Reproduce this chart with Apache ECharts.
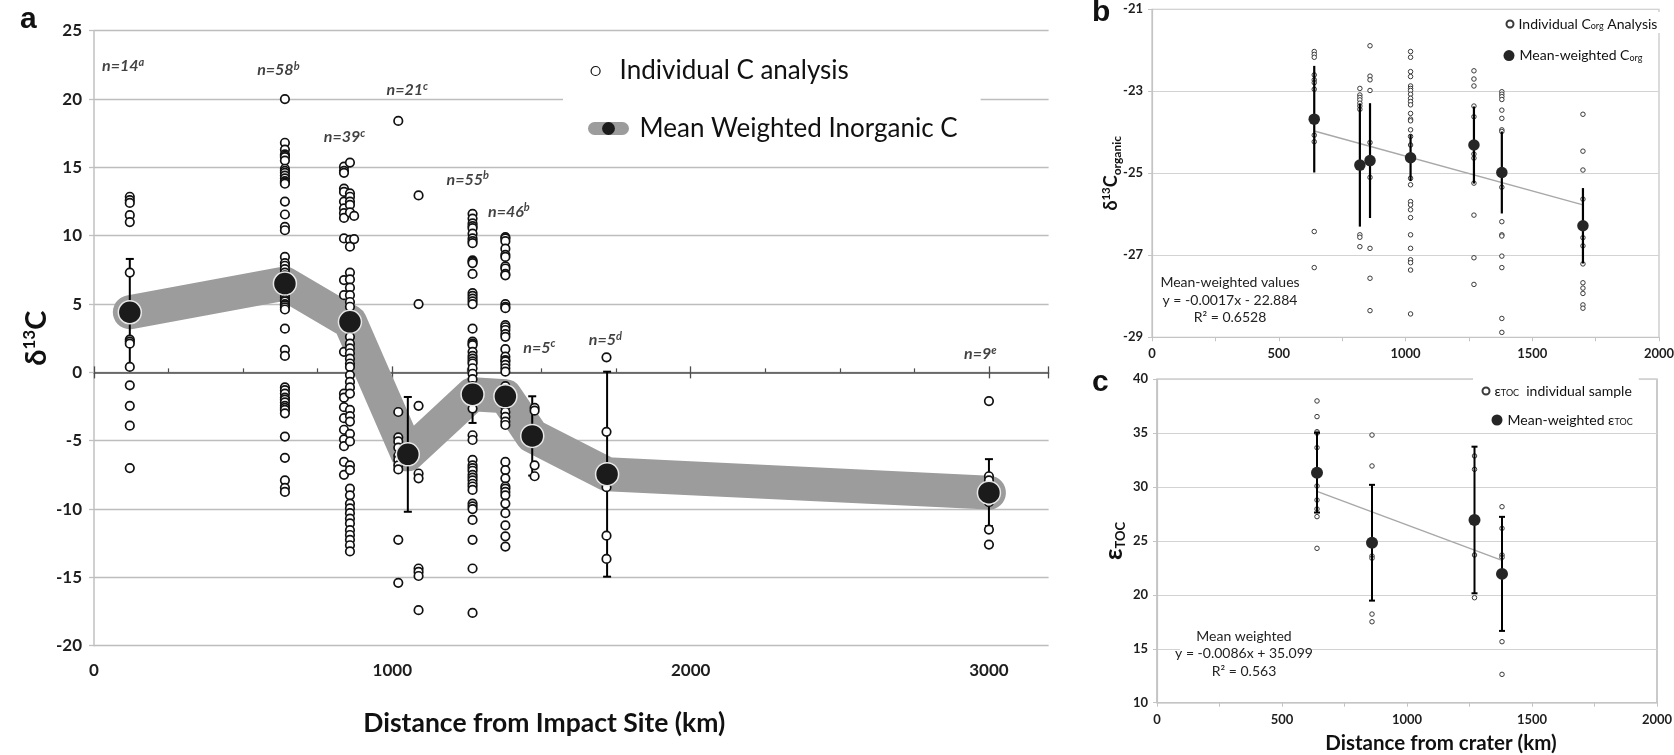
<!DOCTYPE html>
<html><head><meta charset="utf-8">
<script src="https://cdn.jsdelivr.net/npm/echarts@6/dist/echarts.min.js"></script>
<style>html,body{margin:0;padding:0;background:#fff}#c{width:1674px;height:755px}</style>
</head><body><div id="c"></div>
<script>
// ---------- Panel a : inorganic d13C ----------
const aSiteX = [120, 640, 838, 858, 872, 1020, 1088, 1269, 1379, 1477, 1718, 3000];
const aSiteVals = [
  [12.85, 12.6, 12.4, 11.5, 11.0, 7.3, 2.4, 2.25, 2.1, 0.4, -0.95, -2.45, -3.9, -7.0],
  [20.0, 16.8, 16.3, 15.95, 15.85, 15.75, 15.5, 14.9, 14.75, 14.6, 14.4, 14.2, 14.0, 13.9, 13.8, 12.5, 11.55, 10.65, 10.4, 8.45, 8.0, 7.8, 7.55, 7.3, 7.1, 6.9, 6.7, 6.5, 6.4, 6.2, 6.0, 5.9, 5.7, 5.5, 5.3, 5.2, 5.0, 4.9, 4.75, 4.6, 3.2, 1.65, 1.2, -1.1, -1.3, -1.55, -1.85, -2.0, -2.2, -2.45, -2.6, -2.75, -3.0, -4.7, -6.25, -7.9, -8.45, -8.75],
  [15.05, 14.75, 14.6, 13.45, 13.2, 12.5, 12.0, 11.65, 11.3, 9.8, 6.75, 5.65, 1.5, -1.55, -1.85, -2.55, -3.35, -4.2, -4.9, -5.4, -6.55, -7.5],
  [15.35, 13.1, 12.85, 12.5, 12.25, 11.7, 9.7, 9.2, 7.3, 6.8, 6.2, 5.65, 5.15, 4.8, 3.8, 3.2, 2.6, 2.1, 1.75, 1.4, 1.0, 0.65, 0.4, -0.2, -0.7, -1.1, -1.55, -2.75, -3.2, -3.6, -4.5, -5.05, -6.8, -7.15, -8.5, -9.0, -9.6, -9.95, -10.3, -10.7, -11.05, -11.55, -11.9, -12.25, -12.65, -13.1],
  [11.45, 9.75],
  [18.4, -2.9, -4.75, -5.05, -5.5, -6.1, -6.4, -6.8, -7.1, -12.25, -15.4],
  [12.95, 5.0, -2.45, -7.4, -7.75, -14.35, -14.6, -14.9, -17.4],
  [11.6, 11.25, 10.9, 10.7, 10.55, 10.15, 9.8, 9.6, 9.45, 8.2, 8.1, 8.0, 7.2, 5.8, 5.6, 5.4, 5.2, 5.0, 3.2, 2.25, 2.1, 2.0, 1.5, 1.2, 1.0, 0.8, 0.65, 0.3, -0.1, -0.5, -1.0, -1.3, -1.6, -1.9, -2.2, -2.65, -4.6, -4.95, -6.4, -6.8, -7.0, -7.2, -7.5, -7.7, -7.9, -8.15, -8.35, -8.6, -9.6, -9.8, -10.0, -10.8, -12.25, -14.35, -17.6],
  [9.9, 9.8, 9.6, 9.05, 8.6, 8.45, 7.75, 7.6, 7.2, 7.1, 5.0, 4.8, 4.7, 3.45, 3.3, 3.1, 2.8, 2.6, 1.7, 1.15, 0.9, 0.8, 0.55, 0.3, 0.05, -1.0, -1.4, -1.8, -2.2, -2.5, -2.9, -3.25, -3.6, -3.85, -6.55, -7.15, -7.75, -8.35, -8.5, -8.75, -9.0, -9.6, -10.3, -11.2, -12.0, -12.75],
  [-2.6, -2.8, -4.7, -6.8, -7.6],
  [1.1, -4.35, -8.4, -11.95, -13.65],
  [-2.1, -7.6, -7.9, -8.5, -8.8, -9.1, -9.5, -11.5, -12.6]
];
const aMeanX = [120, 640, 858, 1052, 1269, 1379, 1469, 1720, 3000];
const aMeanY = [4.4, 6.5, 3.7, -6.0, -1.6, -1.75, -4.65, -7.45, -8.8];
const aMeanErr = [3.9, 0, 0, 4.2, 2.1, 0, 2.9, 7.5, 2.45];
const aNLabelX = [98, 618, 840, 1050, 1253, 1391, 1493, 1714, 2971];
const aNLabelY = [22.4, 22.1, 17.2, 20.65, 14.1, 11.75, 1.8, 2.36, 1.34];
const aNText = ['14', '58', '39', '21', '55', '46', '5', '5', '9'];
const aNSup = ['a', 'b', 'c', 'c', 'b', 'b', 'c', 'd', 'e'];
const aXMajor = [0, 1000, 2000, 3000];

// ---------- Panel b : organic d13C ----------
const bSiteX = [640, 820, 860, 1020, 1270, 1380, 1700];
const bSiteVals = [
  [-22.03, -22.1, -22.17, -22.6, -22.72, -22.79, -22.95, -24.07, -24.23, -26.42, -27.3],
  [-22.93, -23.09, -23.15, -23.21, -23.29, -23.36, -23.44, -26.5, -26.56, -26.79],
  [-21.89, -22.63, -22.72, -22.98, -24.25, -25.1, -26.83, -27.56, -28.35],
  [-22.03, -22.17, -22.52, -22.64, -22.87, -22.93, -22.98, -23.07, -23.17, -23.25, -23.33, -23.54, -23.68, -23.72, -23.94, -24.1, -24.31, -25.12, -25.28, -25.69, -25.77, -25.89, -26.08, -26.5, -26.83, -27.11, -27.18, -27.36, -28.43],
  [-22.5, -22.7, -22.87, -23.36, -23.62, -24.53, -24.63, -25.24, -26.02, -27.06, -27.71],
  [-23.01, -23.07, -23.13, -23.2, -23.46, -23.66, -23.94, -23.98, -25.34, -26.18, -26.5, -26.53, -27.02, -27.3, -28.54, -28.88],
  [-23.56, -24.46, -24.92, -25.63, -26.3, -26.57, -26.77, -27.21, -27.67, -27.8, -27.93, -28.21, -28.29]
];
const bMeanY = [-23.68, -24.8, -24.69, -24.62, -24.31, -24.98, -26.28];
const bMeanErr = [1.3, 1.5, 1.4, 0.57, 0.94, 1.0, 0.92];
const bTrendX = [640, 1700];
const bTrendY = [-23.97, -25.77];

// ---------- Panel c : epsilon TOC ----------
const cSiteX = [640, 860, 1270, 1380];
const cSiteVals = [
  [37.99, 36.54, 35.14, 35.0, 33.66, 30.1, 28.8, 27.97, 27.26, 24.32],
  [34.83, 31.96, 23.6, 23.4, 18.22, 17.51],
  [32.89, 31.65, 23.7, 19.74],
  [28.18, 26.17, 23.7, 23.48, 15.66, 12.63]
];
const cMeanY = [31.34, 24.84, 26.95, 21.95];
const cMeanErr = [3.7, 5.37, 6.8, 5.29];
const cTrendX = [640, 1380];
const cTrendY = [29.6, 23.2];

// ---------- helpers ----------
const FONT = 'Lato, "DejaVu Sans", sans-serif';
function pts(xs, vals) { const out = []; xs.forEach((x, i) => vals[i].forEach(v => out.push([x, v]))); return out; }
function pairs(xs, ys) { return xs.map((x, i) => [x, ys[i]]); }
function errData(xs, ys, es) { const out = []; xs.forEach((x, i) => { if (es[i] > 0) out.push([x, ys[i] - es[i], ys[i] + es[i]]); }); return out; }
function errRender(capW, lw) {
  return function (params, api) {
    const x = api.value(0);
    const lo = api.coord([x, api.value(1)]);
    const hi = api.coord([x, api.value(2)]);
    const st = { stroke: '#000', lineWidth: lw };
    const ch = [{ type: 'line', shape: { x1: lo[0], y1: lo[1], x2: hi[0], y2: hi[1] }, style: st }];
    if (capW > 0) {
      ch.push({ type: 'line', shape: { x1: lo[0] - capW / 2, y1: lo[1], x2: lo[0] + capW / 2, y2: lo[1] }, style: st });
      ch.push({ type: 'line', shape: { x1: hi[0] - capW / 2, y1: hi[1], x2: hi[0] + capW / 2, y2: hi[1] }, style: st });
    }
    return { type: 'group', children: ch };
  };
}
const tickLbl = (size) => ({ fontFamily: FONT, fontWeight: 'bold', fontSize: size, color: '#1e1e1e', formatter: v => String(v) });

const chart = echarts.init(document.getElementById('c'), null, { renderer: 'canvas' });
const option = {
  animation: false,
  backgroundColor: '#fff',
  grid: [
    { left: 94, top: 30.7, right: 625.4, bottom: 109.3, outerBoundsMode: 'none' },
    { left: 1152, top: 9.3, right: 15, bottom: 417.7, show: true, borderColor: '#c4c4c4', borderWidth: 1.2, outerBoundsMode: 'none' },
    { left: 1157, top: 379.3, right: 17, bottom: 52.3, show: true, borderColor: '#b4b4b4', borderWidth: 1.4, outerBoundsMode: 'none' }
  ],
  xAxis: [
    { gridIndex: 0, type: 'value', min: 0, max: 3200, interval: 1000, position: 'bottom',
      axisLine: { show: false, onZero: false }, axisTick: { show: false }, splitLine: { show: false },
      axisLabel: Object.assign(tickLbl(17), { margin: 16, formatter: v => aXMajor.indexOf(v) >= 0 ? String(v) : '' }),
      name: 'Distance from Impact Site (km)', nameLocation: 'middle', nameGap: 64, nameMoveOverlap: false,
      nameTextStyle: { fontFamily: FONT, fontWeight: 'bold', fontSize: 26.5, color: '#111', padding: [0, 54, 0, 0] } },
    { gridIndex: 0, type: 'value', min: 0, max: 3200, interval: 1000, position: 'bottom',
      axisLine: { show: true, onZero: true, lineStyle: { color: '#4d4d4d', width: 1.5 } },
      axisTick: { show: true, inside: true, length: 6, lineStyle: { color: '#4d4d4d', width: 1.3 } },
      minorTick: { show: true, splitNumber: 4, length: 4, lineStyle: { color: '#4d4d4d', width: 1.2 } },
      axisLabel: { show: false }, splitLine: { show: false } },
    { gridIndex: 0, type: 'value', min: 0, max: 3200, interval: 1000, position: 'bottom',
      axisLine: { show: false, onZero: true, onZeroAxisIndex: 0 },
      axisTick: { show: true, inside: false, length: 6, lineStyle: { color: '#4d4d4d', width: 1.3 } },
      axisLabel: { show: false }, splitLine: { show: false } },
    { gridIndex: 1, type: 'value', min: 0, max: 2000, interval: 500,
      axisLine: { show: true, onZero: false, lineStyle: { color: '#c4c4c4', width: 1.2 } },
      axisTick: { show: true, length: 4, lineStyle: { color: '#c4c4c4' } },
      minorTick: { show: true, splitNumber: 2, length: 4, lineStyle: { color: '#c4c4c4' } },
      axisLabel: Object.assign(tickLbl(13), { margin: 10 }), splitLine: { show: false } },
    { gridIndex: 2, type: 'value', min: 0, max: 2000, interval: 500,
      axisLine: { show: true, onZero: false, lineStyle: { color: '#c4c4c4', width: 1.2 } },
      axisTick: { show: true, length: 4, lineStyle: { color: '#c4c4c4' } },
      minorTick: { show: true, splitNumber: 2, length: 4, lineStyle: { color: '#c4c4c4' } },
      axisLabel: Object.assign(tickLbl(13), { margin: 11 }), splitLine: { show: false },
      name: 'Distance from crater (km)', nameLocation: 'middle', nameGap: 30, nameMoveOverlap: false,
      nameTextStyle: { fontFamily: FONT, fontWeight: 'bold', fontSize: 20.5, color: '#111', padding: [0, 0, 0, 68] } }
  ],
  yAxis: [
    { gridIndex: 0, type: 'value', min: -20, max: 25, interval: 5,
      axisLine: { show: true, onZero: false, lineStyle: { color: '#c0c0c0', width: 1.5 } },
      axisTick: { show: true, length: 5, lineStyle: { color: '#c0c0c0', width: 1.3 } },
      splitLine: { show: true, lineStyle: { color: '#bdbdbd', width: 1.4 } },
      axisLabel: Object.assign(tickLbl(17), { margin: 12 }),
      name: '{m|δ}{s|13}{m|C}', nameLocation: 'middle', nameGap: 41, nameMoveOverlap: false,
      nameTextStyle: { rich: {
        m: { fontFamily: FONT, fontWeight: 'bold', fontSize: 29, lineHeight: 32, color: '#111' },
        s: { fontFamily: FONT, fontWeight: 'bold', fontSize: 17, lineHeight: 17, verticalAlign: 'top', color: '#111' } } } },
    { gridIndex: 1, type: 'value', min: -29, max: -21, interval: 2,
      axisLine: { show: true, onZero: false, lineStyle: { color: '#c4c4c4', width: 1.2 } },
      axisTick: { show: true, length: 4, lineStyle: { color: '#c4c4c4' } },
      splitLine: { show: true, lineStyle: { color: '#d3d3d3', width: 1.2 } },
      axisLabel: Object.assign(tickLbl(13), { margin: 9 }),
      name: '{m|δ}{s|13}{m|C}{b|organic}', nameLocation: 'middle', nameGap: 29, nameMoveOverlap: false,
      nameTextStyle: { rich: {
        m: { fontFamily: FONT, fontWeight: 'bold', fontSize: 18, lineHeight: 23, color: '#111' },
        s: { fontFamily: FONT, fontWeight: 'bold', fontSize: 11.5, lineHeight: 11.5, verticalAlign: 'top', color: '#111' },
        b: { fontFamily: FONT, fontWeight: 'bold', fontSize: 12, lineHeight: 12, verticalAlign: 'bottom', color: '#111' } } } },
    { gridIndex: 2, type: 'value', min: 10, max: 40, interval: 5,
      axisLine: { show: true, onZero: false, lineStyle: { color: '#c4c4c4', width: 1.2 } },
      axisTick: { show: true, length: 4, lineStyle: { color: '#c4c4c4' } },
      splitLine: { show: true, lineStyle: { color: '#d3d3d3', width: 1.2 } },
      axisLabel: Object.assign(tickLbl(13), { margin: 9 }),
      name: '{m|ε}{b|TOC}', nameLocation: 'middle', nameGap: 30, nameMoveOverlap: false,
      nameTextStyle: { rich: {
        m: { fontFamily: FONT, fontWeight: 'bold', fontSize: 25, lineHeight: 26, color: '#111' },
        b: { fontFamily: FONT, fontWeight: 'bold', fontSize: 13, lineHeight: 13, verticalAlign: 'bottom', color: '#111' } } } }
  ],
  legend: [
    { data: ['Individual C analysis'], left: 590.5, top: 58, padding: 0, itemWidth: 24, itemHeight: 9, selectedMode: false,
      itemStyle: { borderWidth: 1.2 }, textStyle: { fontFamily: FONT, fontSize: 26, color: '#111', padding: [0, 0, 0, 7] } },
    { data: ['Mean Weighted Inorganic C'], left: 563, top: 97, padding: [18.5, 23, 8, 25], backgroundColor: '#fff',
      itemWidth: 28, itemHeight: 16, selectedMode: false,
      lineStyle: { width: 13, cap: 'round', color: '#9c9c9c' }, itemStyle: { borderWidth: 0 },
      textStyle: { fontFamily: FONT, fontSize: 26, color: '#111', padding: [0, 0, 0, 12] } },
    { data: ['Individual Corg Analysis'], left: 1495, top: 12, padding: [5, 12, 2, 10.5], backgroundColor: '#fff',
      itemWidth: 7, itemHeight: 7, selectedMode: false,
      formatter: () => '{t|Individual C}{b|org}{t| Analysis}',
      textStyle: { rich: { t: { fontFamily: FONT, fontSize: 14, color: '#111' }, b: { fontFamily: FONT, fontSize: 9, color: '#111', verticalAlign: 'bottom', lineHeight: 9 } } } },
    { data: ['Mean-weighted Corg'], left: 1495, top: 34.6, padding: [14, 12, 18, 8.5], backgroundColor: '#fff',
      itemWidth: 11, itemHeight: 11, selectedMode: false,
      formatter: () => '{t|Mean-weighted C}{b|org}',
      textStyle: { rich: { t: { fontFamily: FONT, fontSize: 14, color: '#111' }, b: { fontFamily: FONT, fontSize: 9, color: '#111', verticalAlign: 'bottom', lineHeight: 9 } } } },
    { data: ['εTOC individual sample'], left: 1473, top: 376, padding: [8, 7, 2, 8.5], backgroundColor: '#fff',
      itemWidth: 7, itemHeight: 7, selectedMode: false,
      formatter: () => '{t|ε}{b|TOC}{t|  individual sample}',
      textStyle: { rich: { t: { fontFamily: FONT, fontSize: 14, color: '#111' }, b: { fontFamily: FONT, fontSize: 9, color: '#111', verticalAlign: 'bottom', lineHeight: 9 } } } },
    { data: ['Mean-weighted εTOC'], left: 1491.5, top: 413, padding: 0,
      itemWidth: 11, itemHeight: 11, selectedMode: false,
      formatter: () => '{t|Mean-weighted ε}{b|TOC}',
      textStyle: { rich: { t: { fontFamily: FONT, fontSize: 14, color: '#111' }, b: { fontFamily: FONT, fontSize: 9, color: '#111', verticalAlign: 'bottom', lineHeight: 9 } } } }
  ],
  graphic: [
    { type: 'text', style: { x: 20, y: 20, text: 'a', font: 'bold 30px "Liberation Sans", Arial, sans-serif', fill: '#111', verticalAlign: 'middle' } },
    { type: 'text', style: { x: 1092, y: 13, text: 'b', font: 'bold 30px "Liberation Sans", Arial, sans-serif', fill: '#111', verticalAlign: 'middle' } },
    { type: 'text', style: { x: 1092, y: 382.6, text: 'c', font: 'bold 30px "Liberation Sans", Arial, sans-serif', fill: '#111', verticalAlign: 'middle' } },
    { type: 'text', z: 10, style: { x: 1230, y: 300, text: 'Mean-weighted values\ny = -0.0017x - 22.884\nR² = 0.6528', font: '14px Lato, sans-serif', lineHeight: 17.5, fill: '#222', align: 'center', verticalAlign: 'middle' } },
    { type: 'rect', z: 9, shape: { x: 1180, y: 644, width: 122, height: 10 }, style: { fill: '#fff' } },
    { type: 'text', z: 10, style: { x: 1244, y: 653.5, text: 'Mean weighted\ny = -0.0086x + 35.099\nR² = 0.563', font: '14px Lato, sans-serif', lineHeight: 17.5, fill: '#222', align: 'center', verticalAlign: 'middle' } }
  ],
  series: [
    // panel a
    { name: 'Mean Weighted Inorganic C', type: 'line', xAxisIndex: 0, yAxisIndex: 0, z: 1, symbol: 'none', silent: true,
      data: pairs(aMeanX, aMeanY),
      lineStyle: { color: '#9c9c9c', width: 34, cap: 'round', join: 'round' },
      itemStyle: { color: '#1b1b1b' } },
    { name: 'aErr', type: 'custom', xAxisIndex: 0, yAxisIndex: 0, z: 2, silent: true,
      renderItem: errRender(8, 2), encode: { x: 0, y: [1, 2] }, data: errData(aMeanX, aMeanY, aMeanErr) },
    { name: 'Individual C analysis', type: 'scatter', xAxisIndex: 0, yAxisIndex: 0, z: 3, symbol: 'circle', symbolSize: 8.5,
      itemStyle: { color: '#fff', borderColor: '#111', borderWidth: 1.7, opacity: 1 }, data: pts(aSiteX, aSiteVals) },
    { name: 'aMeans', type: 'scatter', xAxisIndex: 0, yAxisIndex: 0, z: 4, symbolSize: 23,
      itemStyle: { color: '#1b1b1b', borderColor: '#e8e8e8', borderWidth: 1.5, opacity: 1 }, data: pairs(aMeanX, aMeanY) },
    { name: 'aN', type: 'scatter', xAxisIndex: 0, yAxisIndex: 0, z: 5, symbolSize: 0, silent: true,
      data: pairs(aNLabelX, aNLabelY),
      label: { show: true, position: 'inside',
        formatter: p => '{n|n=' + aNText[p.dataIndex] + '}{s|' + aNSup[p.dataIndex] + '}',
        rich: {
          n: { fontFamily: FONT, fontStyle: 'italic', fontWeight: 'bold', fontSize: 16, lineHeight: 19, color: '#111' },
          s: { fontFamily: FONT, fontStyle: 'italic', fontWeight: 'bold', fontSize: 11, lineHeight: 11, verticalAlign: 'top', color: '#111' } } } },
    // panel b
    { name: 'Individual Corg Analysis', type: 'scatter', xAxisIndex: 3, yAxisIndex: 1, z: 2, symbolSize: 4.5,
      itemStyle: { color: '#fff', borderColor: '#3a3a3a', borderWidth: 1, opacity: 1 }, data: pts(bSiteX, bSiteVals) },
    { name: 'bTrend', type: 'line', xAxisIndex: 3, yAxisIndex: 1, z: 3, symbol: 'none', silent: true,
      data: pairs(bTrendX, bTrendY), lineStyle: { color: '#a8a8a8', width: 1.5 } },
    { name: 'bErr', type: 'custom', xAxisIndex: 3, yAxisIndex: 1, z: 4, silent: true,
      renderItem: errRender(0, 2.2), encode: { x: 0, y: [1, 2] }, data: errData(bSiteX, bMeanY, bMeanErr) },
    { name: 'Mean-weighted Corg', type: 'scatter', xAxisIndex: 3, yAxisIndex: 1, z: 5, symbolSize: 11.5,
      itemStyle: { color: '#262626', opacity: 1 }, data: pairs(bSiteX, bMeanY) },
    // panel c
    { name: 'εTOC individual sample', type: 'scatter', xAxisIndex: 4, yAxisIndex: 2, z: 2, symbolSize: 4.5,
      itemStyle: { color: '#fff', borderColor: '#3a3a3a', borderWidth: 1, opacity: 1 }, data: pts(cSiteX, cSiteVals) },
    { name: 'cTrend', type: 'line', xAxisIndex: 4, yAxisIndex: 2, z: 3, symbol: 'none', silent: true,
      data: pairs(cTrendX, cTrendY), lineStyle: { color: '#a8a8a8', width: 1.5 } },
    { name: 'cErr', type: 'custom', xAxisIndex: 4, yAxisIndex: 2, z: 4, silent: true,
      renderItem: errRender(6, 2), encode: { x: 0, y: [1, 2] }, data: errData(cSiteX, cMeanY, cMeanErr) },
    { name: 'Mean-weighted εTOC', type: 'scatter', xAxisIndex: 4, yAxisIndex: 2, z: 5, symbolSize: 12,
      itemStyle: { color: '#262626', opacity: 1 }, data: pairs(cSiteX, cMeanY) }
  ]
};
chart.setOption(option);
</script>
</body></html>
